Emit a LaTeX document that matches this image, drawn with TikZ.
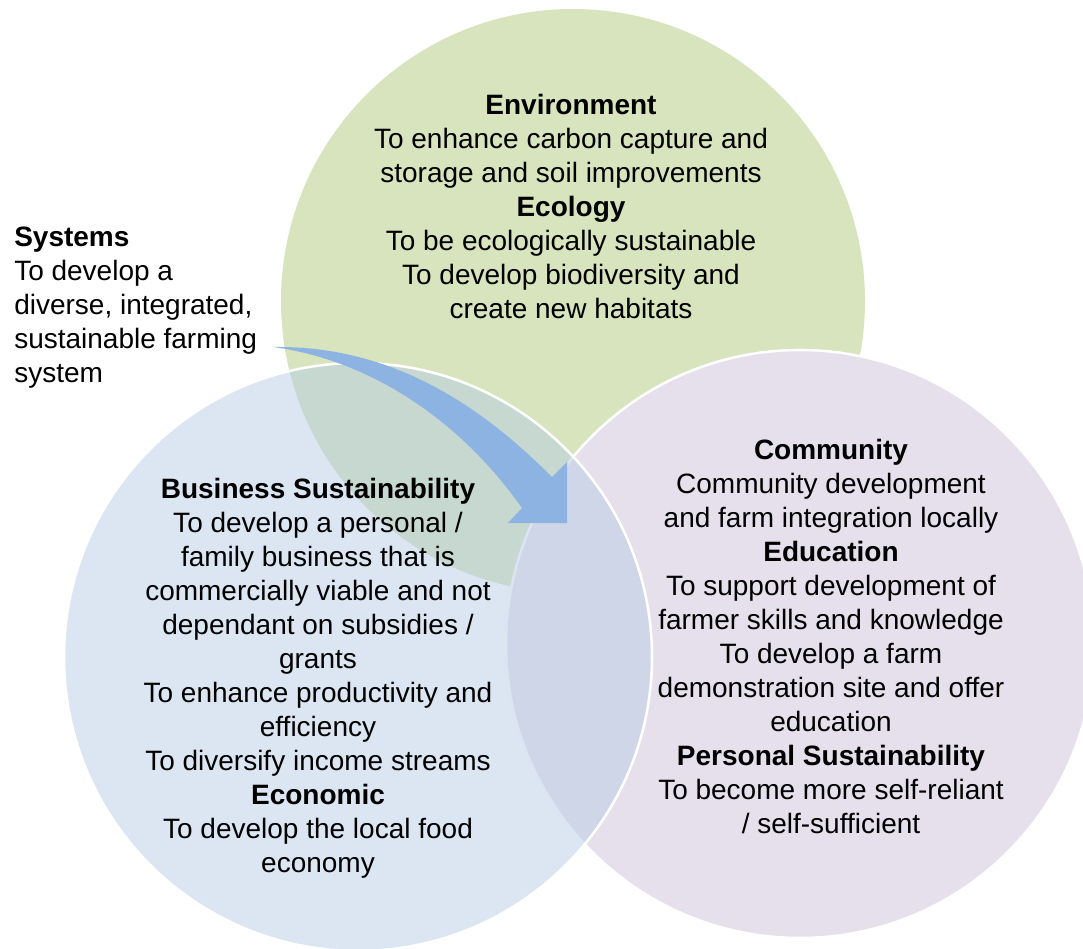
\documentclass[tikz,border=0pt]{standalone}
\usepackage{fontspec}
\setmainfont{Liberation Sans}
\usepackage{tikz}
\usetikzlibrary{calc, positioning}
\definecolor{envgreen}{HTML}{D7E4BD}
\definecolor{comlilac}{HTML}{E5E0EC}
\definecolor{busblue}{HTML}{B9CDE5}
\definecolor{arrowblue}{HTML}{8DB3E2}
\tikzset{
    ring/.style={draw=white, line width=1.9pt},
    aim/.style={align=center, font=\fontsize{21}{25.5}\selectfont, inner sep=0pt},
    flow/.style={fill=arrowblue, draw=none}
}

\begin{document}
\begin{tikzpicture}[x=0.75pt, y=-0.75pt]
    \useasboundingbox (0,0) rectangle (1083,949);

    % Circle centres
    \coordinate (EnvC) at (573,301);
    \coordinate (ComC) at (800,644);
    \coordinate (BusC) at (358,657);

    % --- CIRCLES ---
    % Environment (top), Community (right), Business (left, see-through)
    \fill[envgreen] (EnvC) circle[radius=292];
    \filldraw[ring, fill=comlilac] (ComC) circle[radius=294];
    \fill[busblue, fill opacity=0.5] (BusC) circle[radius=294];
    \draw[ring] (BusC) circle[radius=294];

    % --- SYSTEMS ARROW ---
    \coordinate (tail) at (273,347);
    \coordinate (tip) at (567,523);
    \fill[flow] (tail) .. controls (400,345) and (490,415) .. (552,477)
        -- (567,462) -- (tip) -- (508,523) -- (522,508)
        .. controls (460,420) and (370,360) .. cycle;

    % --- TEXT ---
    \node[aim] (Env) at (571,206) {\textbf{Environment}\\To enhance carbon capture and\\storage and soil improvements\\\textbf{Ecology}\\To be ecologically sustainable\\To develop biodiversity and\\create new habitats};

    \node[aim, align=left, anchor=west] (Sys) at (14,308) {\textbf{Systems}\\To develop a\\diverse, integrated,\\sustainable farming\\system};

    \node[aim] (Bus) at (318,678) {\textbf{Business Sustainability}\\To develop a personal /\\family business that is\\commercially viable and not\\dependant on subsidies /\\grants\\To enhance productivity and\\efficiency\\To diversify income streams\\\textbf{Economic}\\To develop the local food\\economy};

    \node[aim] (Com) at (831,636) {\textbf{Community}\\Community development\\and farm integration locally\\\textbf{Education}\\To support development of\\farmer skills and knowledge\\To develop a farm\\demonstration site and offer\\education\\\textbf{Personal Sustainability}\\To become more self-reliant\\/ self-sufficient};

\end{tikzpicture}
\end{document}
